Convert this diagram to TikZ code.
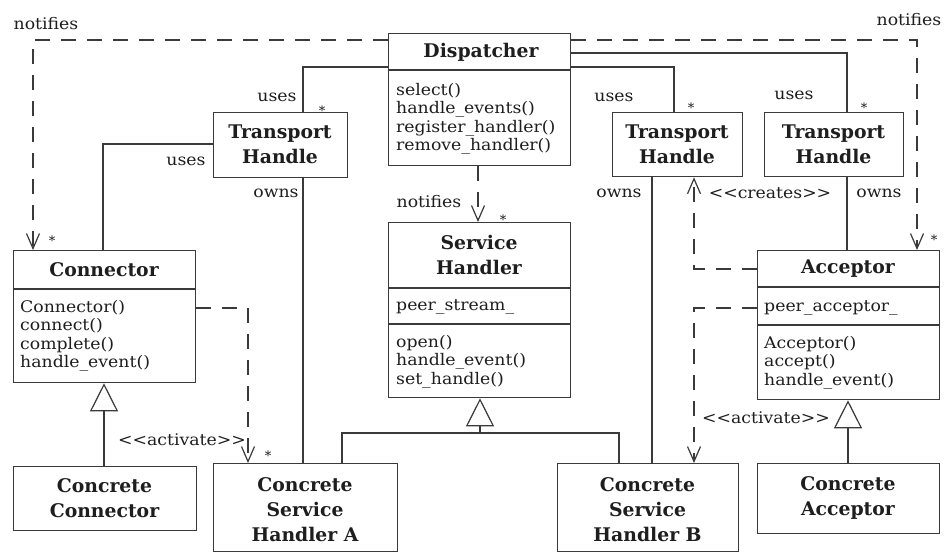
\documentclass[tikz,border=0pt]{standalone}
\usepackage{fontspec}
\setmainfont{DejaVu Serif}
\newfontfamily\mthfam{DejaVu Serif}[FakeStretch=1.08]
\usetikzlibrary{arrows.meta}
\definecolor{linec}{HTML}{3A3A3A}
\definecolor{textc}{HTML}{1E1E1E}
\newcommand\mthfont{\mthfam\fontsize{16}{18.5}\selectfont}
\newcommand\ttlfont{\fontsize{18.8}{25}\selectfont\bfseries}
\newcommand\starfont{\fontsize{13}{13}\selectfont}
\begin{document}
\begin{tikzpicture}[x=1pt,y=-1pt,
  box/.style={draw=linec, line width=1.3pt, fill=white, inner sep=0pt, anchor=north west},
  ttl/.style={font=\ttlfont, text=textc, align=center, inner sep=0pt},
  mth/.style={font=\mthfont, text=textc, align=left, anchor=west, inner sep=0pt},
  lbl/.style={font=\mthfont, text=textc, inner sep=0pt},
  mult/.style={font=\starfont, text=textc, inner sep=0pt},
  conn/.style={draw=linec, line width=1.2pt},
  dep/.style={conn, dash pattern=on 15pt off 11pt, -{Straight Barb[length=15pt,width=13pt,line width=1.2pt]}},
  inh/.style={conn, -{Triangle[open,length=28pt,width=28pt,line width=1.2pt]}}
]
\useasboundingbox (0,0) rectangle (944,552);
\fill[white] (0,0) rectangle (944,552);

% ---------- boxes ----------
\node[box, minimum width=182pt, minimum height=132pt] (disp) at (388,33) {};
\node[box, minimum width=134pt, minimum height=65pt] (th1) at (213,112) {};
\node[box, minimum width=130pt, minimum height=64pt] (th2) at (612,112) {};
\node[box, minimum width=139pt, minimum height=64pt] (th3) at (764,112) {};
\node[box, minimum width=182pt, minimum height=132pt] (conn) at (13,250) {};
\node[box, minimum width=182pt, minimum height=175pt] (sh) at (388,222) {};
\node[box, minimum width=182pt, minimum height=149pt] (acc) at (757,250) {};
\node[box, minimum width=183pt, minimum height=64pt] (cc) at (13,466) {};
\node[box, minimum width=184pt, minimum height=88pt] (csha) at (213,463) {};
\node[box, minimum width=181pt, minimum height=88pt] (cshb) at (557,463) {};
\node[box, minimum width=182pt, minimum height=70pt] (ca) at (757,463) {};

% ---------- dividers ----------
\draw[conn] (disp.west |- 0,70) -- (disp.east |- 0,70);
\draw[conn] (conn.west |- 0,289) -- (conn.east |- 0,289);
\draw[conn] (sh.west |- 0,288) -- (sh.east |- 0,288);
\draw[conn] (sh.west |- 0,324) -- (sh.east |- 0,324);
\draw[conn] (acc.west |- 0,287) -- (acc.east |- 0,287);
\draw[conn] (acc.west |- 0,325) -- (acc.east |- 0,325);

% ---------- titles ----------
\node[ttl] (dispT) at (481,52) {Dispatcher};
\node[ttl] (th1T) at (280,144.5) {Transport\\Handle};
\node[ttl] (th2T) at (677,144) {Transport\\Handle};
\node[ttl] (th3T) at (833.5,144) {Transport\\Handle};
\node[ttl] (connT) at (104,269.5) {Connector};
\node[ttl] (shT) at (479,255) {Service\\Handler};
\node[ttl] (accT) at (848,268.5) {Acceptor};
\node[ttl] (ccT) at (104.5,498) {Concrete\\Connector};
\node[ttl] (cshaT) at (305,510) {Concrete\\Service\\Handler A};
\node[ttl] (cshbT) at (647.5,510) {Concrete\\Service\\Handler B};
\node[ttl] (caT) at (848,498) {Concrete\\Acceptor};

% ---------- members ----------
\node[mth] (dispM) at (396,119) {select()\\handle\_events()\\register\_handler()\\remove\_handler()};
\node[mth] (connM) at (20,336) {Connector()\\connect()\\complete()\\handle\_event()};
\node[mth] (shA) at (396,307) {peer\_stream\_};
\node[mth] (shM) at (396,361.5) {open()\\handle\_event()\\set\_handle()};
\node[mth] (accA) at (764,308) {peer\_acceptor\_};
\node[mth] (accM) at (764,362.5) {Acceptor()\\accept()\\handle\_event()};

% ---------- associations ----------
\draw[conn] (disp.west |- 0,67) -| (303,0 |- th1.north);
\draw[conn] (303,0 |- th1.south) -- (303,0 |- csha.north);
\draw[conn] (th1.west |- 0,144) -| (103,0 |- conn.north);
\draw[conn] (disp.east |- 0,67) -| (674,0 |- th2.north);
\draw[conn] (disp.east |- 0,53) -| (847,0 |- th3.north);
\draw[conn] (652,0 |- th2.south) -- (652,0 |- cshb.north);
\draw[conn] (847,0 |- th3.south) -- (847,0 |- acc.north);

% ---------- dependencies ----------
\draw[dep] (disp.west |- 0,40) -| (33,0 |- conn.north);
\draw[dep] (disp.east |- 0,40) -| (917,0 |- acc.north);
\draw[dep] (478,0 |- disp.south) -- (478,0 |- sh.north);
\draw[dep] (acc.west |- 0,269) -| (694,0 |- th2.south);
\draw[dep] (acc.west |- 0,308) -| (694,0 |- cshb.north);
\draw[dep] (conn.east |- 0,308) -| (248,0 |- csha.north);

% ---------- generalisations ----------
\draw[inh] (104,0 |- cc.north) -- (104,0 |- conn.south);
\draw[inh] (848,0 |- ca.north) -- (848,0 |- acc.south);
\coordinate (join) at (480,433);
\draw[inh] (join) -- (join |- sh.south);
\draw[conn] (342,0 |- csha.north) |- (join) -| (619,0 |- cshb.north);

% ---------- labels ----------
\node[lbl] (n1) at (46,24) {notifies};
\node[lbl] (n2) at (909,20) {notifies};
\node[lbl] (n3) at (429,202) {notifies};
\node[lbl] (u1) at (277,97) {uses};
\node[lbl] (u2) at (186,161) {uses};
\node[lbl] (u3) at (614,97) {uses};
\node[lbl] (u4) at (794,95) {uses};
\node[lbl] (o1) at (276,193) {owns};
\node[lbl] (o2) at (619,193) {owns};
\node[lbl] (o3) at (879,193) {owns};
\node[lbl] (cr) at (770,193) {<{}<creates>{}>};
\node[lbl] (a1) at (182,440) {<{}<activate>{}>};
\node[lbl] (a2) at (766,418) {<{}<activate>{}>};
\node[mult] (s1) at (322,111) {*};
\node[mult] (s2) at (691,108) {*};
\node[mult] (s3) at (864,108) {*};
\node[mult] (s4) at (52,241) {*};
\node[mult] (s5) at (934,240) {*};
\node[mult] (s6) at (503,220) {*};
\node[mult] (s7) at (268,456) {*};
\end{tikzpicture}
\end{document}
